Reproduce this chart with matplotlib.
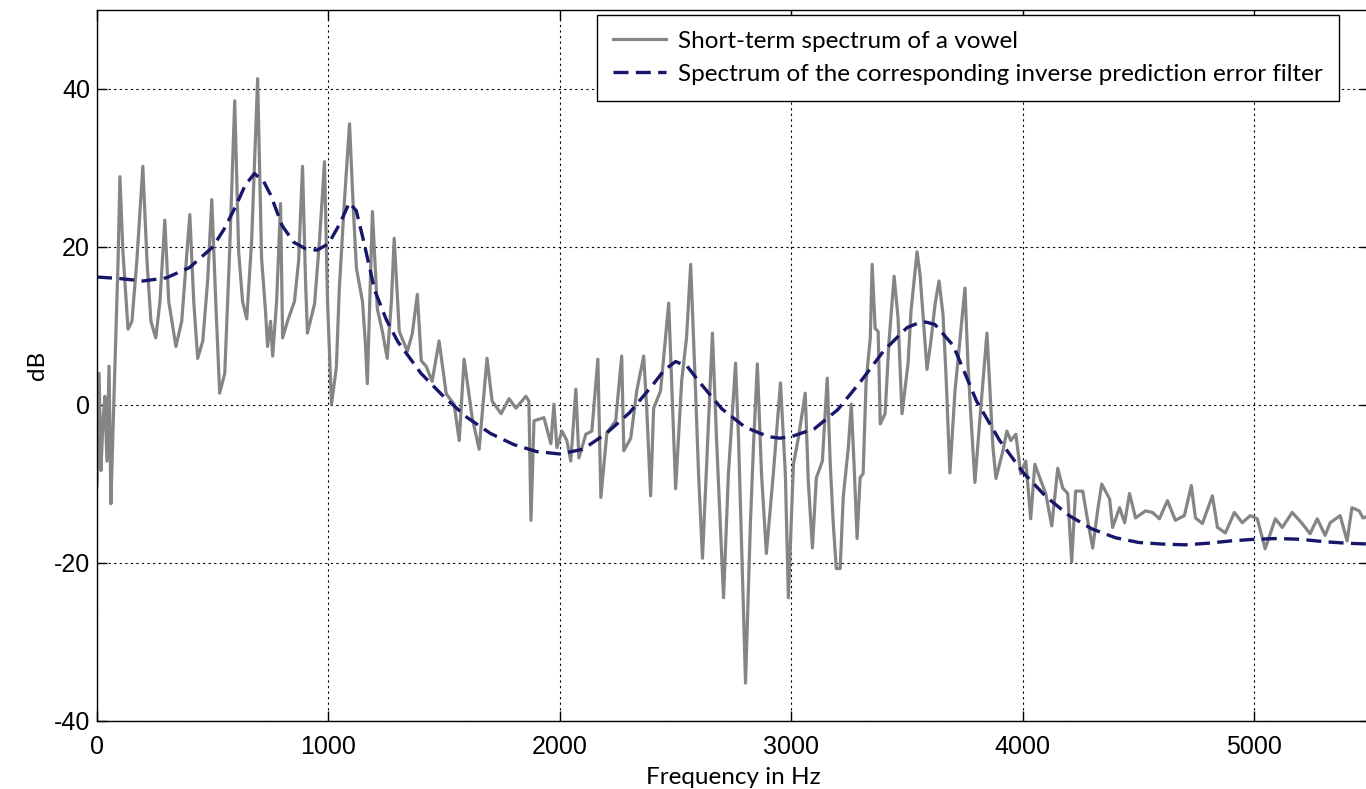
import matplotlib
matplotlib.use("Agg")
import matplotlib.pyplot as plt

plt.rcParams["axes.unicode_minus"] = False

# short-term spectrum of a vowel
freq_spec = [0, 9, 17, 26, 34, 43, 52, 60, 69, 82, 91, 99, 112, 134, 151, 172, 198, 216, 233, 254,
             272, 293, 310, 341, 366, 401, 418, 435, 457, 478, 496, 513, 530, 552, 573, 595, 612,
             629, 647, 668, 694, 711, 728, 737, 750, 759, 776, 793, 802, 823, 853, 871, 888, 901,
             909, 940, 961, 983, 996, 1013, 1034, 1047, 1069, 1091, 1108, 1121, 1147, 1159, 1168,
             1190, 1211, 1233, 1254, 1272, 1284, 1306, 1341, 1362, 1384, 1401, 1422, 1448, 1478,
             1509, 1543, 1565, 1586, 1621, 1651, 1685, 1707, 1746, 1780, 1810, 1853, 1866, 1875,
             1888, 1931, 1961, 1974, 1987, 2009, 2030, 2047, 2069, 2082, 2112, 2138, 2164, 2177,
             2203, 2241, 2267, 2276, 2306, 2332, 2362, 2375, 2392, 2405, 2435, 2470, 2500, 2526,
             2547, 2565, 2586, 2599, 2616, 2659, 2677, 2707, 2728, 2759, 2772, 2802, 2823, 2836,
             2853, 2871, 2892, 2922, 2953, 2974, 2987, 3009, 3030, 3060, 3073, 3091, 3108, 3134,
             3155, 3168, 3181, 3194, 3211, 3224, 3246, 3259, 3272, 3284, 3297, 3310, 3323, 3341,
             3349, 3362, 3375, 3384, 3405, 3422, 3444, 3461, 3478, 3504, 3517, 3543, 3556, 3578,
             3586, 3603, 3621, 3638, 3655, 3668, 3685, 3707, 3728, 3750, 3763, 3776, 3793, 3815,
             3845, 3858, 3871, 3884, 3914, 3931, 3948, 3970, 3991, 4013, 4034, 4052, 4078, 4099,
             4125, 4151, 4172, 4194, 4211, 4228, 4259, 4280, 4302, 4323, 4341, 4375, 4388, 4418,
             4440, 4461, 4487, 4530, 4560, 4590, 4625, 4659, 4698, 4728, 4746, 4776, 4819, 4841,
             4875, 4914, 4948, 4983, 5013, 5047, 5091, 5121, 5164, 5207, 5241, 5272, 5306, 5328,
             5371, 5401, 5422, 5453, 5470, 5500]
db_spec = [-10.2, 4.0, -8.3, -2.0, 1.1, -7.1, 4.9, -12.5, -3.3, 9.3, 18.2, 28.9, 19.4, 9.6, 10.6,
           18.2, 30.2, 18.2, 10.6, 8.5, 13.1, 23.4, 13.1, 7.4, 10.6, 24.1, 13.1, 5.9, 8.1, 15.7,
           26.0, 13.1, 1.5, 4.0, 19.4, 38.5, 19.4, 13.1, 10.9, 20.7, 41.3, 18.6, 11.9, 7.4, 10.6,
           6.2, 13.1, 25.5, 8.5, 10.6, 13.1, 18.2, 30.2, 15.7, 9.1, 12.8, 20.7, 30.8, 13.1, 0.1,
           4.7, 14.8, 25.8, 35.6, 24.5, 17.3, 13.1, 8.1, 2.7, 24.5, 12.2, 9.3, 5.9, 13.1, 21.1,
           9.3, 6.8, 9.0, 14.0, 5.6, 4.9, 3.0, 8.1, 1.4, 0.1, -4.5, 5.8, -1.6, -5.6, 5.9, 0.5,
           -1.1, 0.8, -0.4, 1.1, 0.5, -14.6, -2.0, -1.6, -4.9, 0.1, -5.4, -3.3, -4.5, -7.1, 2.0,
           -6.7, -3.7, -3.3, 5.8, -11.7, -3.5, -2.0, 6.2, -5.8, -4.2, 1.8, 6.2, -0.4, -11.5, -0.4,
           1.8, 12.9, -10.6, 3.0, 8.5, 17.8, 1.8, -8.7, -19.4, 9.1, -4.5, -24.4, -8.7, 5.3, -4.5,
           -35.2, -15.0, -5.4, 5.2, -8.7, -18.8, -8.7, 2.8, -8.7, -24.4, -7.5, -4.2, 1.5, -9.6,
           -18.1, -9.2, -7.1, 3.4, -7.5, -15.0, -20.7, -20.7, -11.7, -5.4, 0.1, -8.3, -16.9, -9.2,
           -8.7, 3.0, 8.5, 17.8, 9.7, 9.3, -2.4, -1.1, 8.1, 16.3, 11.0, -1.1, 5.2, 11.9, 19.4,
           16.5, 7.7, 4.5, 8.1, 12.8, 15.7, 11.5, 3.9, -8.6, 1.8, 8.1, 14.8, 5.2, -1.6, -9.8, -1.6,
           9.1, 1.8, -5.4, -9.3, -5.8, -3.3, -4.5, -3.7, -8.7, -7.1, -14.4, -7.5, -9.6, -11.2,
           -15.3, -8.0, -10.5, -11.2, -19.9, -10.9, -10.9, -14.6, -18.1, -13.4, -10.0, -11.9,
           -15.5, -13.0, -14.9, -11.2, -14.3, -13.4, -13.6, -14.4, -12.1, -14.6, -14.0, -10.2,
           -14.3, -15.0, -11.5, -15.5, -16.2, -13.6, -14.9, -14.0, -14.4, -18.2, -14.4, -15.5,
           -13.6, -15.0, -16.3, -14.4, -16.5, -14.9, -14.0, -17.2, -13.0, -13.4, -14.3, -14.0]

# inverse prediction error filter spectrum
freq_lpc = [0, 100, 200, 300, 400, 500, 550, 600, 640, 680, 720, 750, 800, 850, 900, 950, 1000,
            1050, 1090, 1120, 1150, 1200, 1250, 1300, 1400, 1500, 1600, 1700, 1800, 1900, 2000,
            2100, 2200, 2300, 2400, 2450, 2500, 2550, 2600, 2700, 2800, 2900, 2950, 3000, 3100,
            3200, 3300, 3400, 3500, 3550, 3580, 3620, 3700, 3800, 3900, 4000, 4100, 4200, 4300,
            4400, 4500, 4600, 4700, 4800, 4900, 5000, 5100, 5200, 5300, 5400, 5500]
db_lpc = [16.2, 16.0, 15.7, 16.1, 17.4, 20.0, 22.3, 25.2, 27.8, 29.3, 28.3, 26.6, 22.7, 20.6,
          19.8, 19.6, 20.4, 23.0, 25.6, 24.6, 21.0, 14.5, 10.8, 8.0, 4.0, 1.0, -1.6, -3.6, -5.0,
          -5.9, -6.2, -5.6, -3.6, -1.0, 2.5, 4.4, 5.5, 4.9, 3.0, -0.5, -2.8, -4.0, -4.2, -4.0,
          -3.0, -0.6, 3.0, 6.9, 9.8, 10.4, 10.5, 10.2, 7.5, 0.5, -4.5, -8.5, -11.6, -14.0, -15.7,
          -16.8, -17.4, -17.6, -17.7, -17.5, -17.2, -17.0, -16.9, -17.0, -17.3, -17.5, -17.6]

W, H = 1366, 789
fig = plt.figure(figsize=(W / 100, H / 100), dpi=100)
ax = fig.add_axes([97 / W, 68 / H, 1273 / W, 711 / H])

ax.plot(freq_spec, db_spec, color="#858585", lw=2.3, label="Short-term spectrum of a vowel")
ax.plot(freq_lpc, db_lpc, color="#16166b", lw=2.4, ls=(0, (4.5, 2.2)),
        label="Spectrum of the corresponding inverse prediction error filter")

ax.set_xlim(0, 5500)
ax.set_ylim(-40, 50)
ax.set_xticks([0, 1000, 2000, 3000, 4000, 5000])
ax.set_yticks([-40, -20, 0, 20, 40])
ax.grid(True, color="black", ls=(0, (2, 3)), lw=0.8)
ax.tick_params(direction="in", top=True, right=True, length=7, width=1,
               labelsize=18)
ax.tick_params(axis="x", pad=10)
ax.tick_params(axis="y", pad=5)
for lab in ax.get_xticklabels() + ax.get_yticklabels():
    lab.set_family("Liberation Sans")
for s in ax.spines.values():
    s.set_linewidth(1)

ax.set_xlabel("Frequency in Hz", fontsize=17.5, family="Lato", labelpad=6)
ax.set_ylabel("dB", fontsize=17.5, family="Lato", labelpad=4)

leg = ax.legend(loc="upper left", bbox_to_anchor=(597 / W, 1 - 15 / H),
                bbox_transform=fig.transFigure, borderaxespad=0, fancybox=False,
                framealpha=1, edgecolor="black", prop={"family": "Lato", "size": 17.5},
                handlelength=2.2, handletextpad=0.5, borderpad=0.65, labelspacing=0.5)
leg.get_frame().set_linewidth(1)

fig.savefig("out.png", dpi=100)
